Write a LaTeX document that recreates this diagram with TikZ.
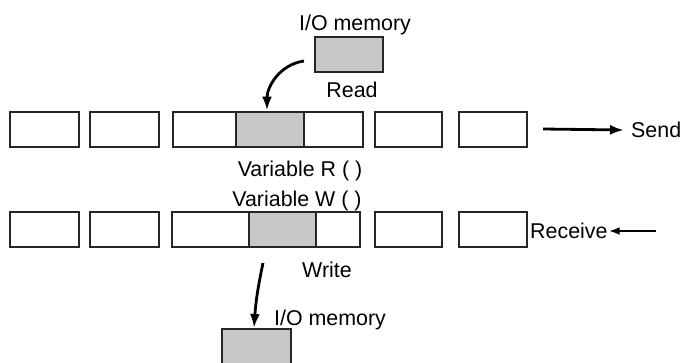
\documentclass[tikz,border=0pt]{standalone}
\usepackage{fontspec}
\setmainfont{Liberation Sans}
\usetikzlibrary{arrows.meta}
\definecolor{memgray}{RGB}{199,200,202}
\newcommand{\FT}{\fontsize{21.4}{25}\selectfont}

\begin{document}
\begin{tikzpicture}[x=1pt,y=-1pt]
\tikzstyle{txt}=[draw=none,fill=none,black,font=\FT,inner sep=0pt]
\tikzstyle{cell}=[draw=black!85,line width=2pt,fill=white,minimum height=35pt,inner sep=0pt]
\tikzstyle{gcell}=[cell,fill=memgray]
\tikzstyle{arr}=[black,line width=2.8pt,-{Latex[length=14pt,width=10pt]}]

\useasboundingbox (0,0) rectangle (682,362);

% I/O memory (read)
\node[gcell,minimum width=68pt] (memR) at (349,54.5) {};
\node[txt,anchor=base] (memRlbl) at (355,30) {I/O memory};
\node[txt,anchor=base] (readlbl) at (352,97) {Read};

% send buffer
\node[cell,minimum width=69pt] (rA) at (44.5,129) {};
\node[cell,minimum width=69pt] (rB) at (124.5,129) {};
\node[cell,minimum width=63pt] (rC) at (204.5,129) {};
\node[gcell,minimum width=68pt] (rG) at (270,129) {};
\node[cell,minimum width=59pt] (rD) at (333.5,129) {};
\node[cell,minimum width=67pt] (rE) at (408.5,129) {};
\node[cell,minimum width=68pt] (rF) at (493,129) {};
\node[txt,anchor=base] (varR) at (300,176) {Variable R ( )};
\node[txt,anchor=west] (send) at (631,130) {Send};

% receive buffer
\node[txt,anchor=base] (varW) at (297,206) {Variable W ( )};
\node[cell,minimum width=69pt] (wA) at (44.5,229.5) {};
\node[cell,minimum width=69pt] (wB) at (124.5,229.5) {};
\node[cell,minimum width=77pt] (wC) at (210.5,229.5) {};
\node[gcell,minimum width=67pt] (wG) at (282.5,229.5) {};
\node[cell,minimum width=44pt] (wD) at (338,229.5) {};
\node[cell,minimum width=67pt] (wE) at (408.5,229.5) {};
\node[cell,minimum width=68pt] (wF) at (493,229.5) {};
\node[txt,anchor=west] (recv) at (530,231) {Receive};
\node[txt,anchor=base] (writelbl) at (327,277) {Write};

% I/O memory (write)
\node[gcell,minimum width=69pt] (memW) at (256.5,346.5) {};
\node[txt,anchor=base] (memWlbl) at (330,325) {I/O memory};

% arrows
\draw[arr] ([xshift=-10pt,yshift=-6.5pt]memR.west) to[out=188,in=90] ([xshift=-3pt]rG.north);
\draw[arr] ([xshift=15pt]rF.east) -- ([xshift=-7pt]send.west);
\draw[arr,line width=2.2pt,-{Latex[length=11pt,width=8pt]}] ([xshift=48pt]recv.east) -- ([xshift=1pt]recv.east);
\draw[arr] ([xshift=-19.5pt,yshift=-15pt]wG.south) to[bend right=4] ([xshift=-2.5pt]memW.north);
\end{tikzpicture}
\end{document}
